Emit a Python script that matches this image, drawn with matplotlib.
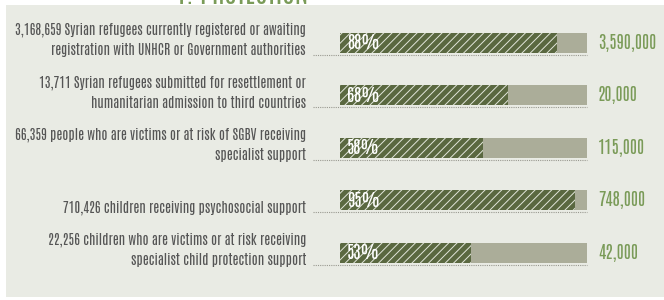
import matplotlib

matplotlib.use("Agg")

import matplotlib.pyplot as plt
import matplotlib.transforms as mtransforms
from matplotlib.patches import Rectangle

labels = [
    "3,168,659 Syrian refugees currently registered or awaiting\nregistration with UNHCR or Government authorities",
    "13,711 Syrian refugees submitted for resettlement or\nhumanitarian admission to third countries",
    "66,359 people who are victims or at risk of SGBV receiving\nspecialist support",
    "710,426 children receiving psychosocial support",
    "22,256 children who are victims or at risk receiving\nspecialist child protection support",
]
percent = [88, 68, 58, 95, 53]
targets = ["3,590,000", "20,000", "115,000", "748,000", "42,000"]

NARROW = ["Antonio", "Barlow Condensed", "DejaVu Sans"]
PANEL = "#e9ebe4"
DARK = "#5a6840"
LIGHT = "#abad99"
GREEN = "#7a9b58"
TEXT = "#555555"

plt.rcParams["hatch.color"] = "#e2e6da"
plt.rcParams["hatch.linewidth"] = 0.7

fig = plt.figure(figsize=(6.64, 3.0), dpi=100)
fig.patches.append(Rectangle((6 / 664, 3 / 300), 1, 292 / 300, transform=fig.transFigure,
                             facecolor=PANEL, edgecolor="none", zorder=-5))
fig.text(175 / 664, 1 - 4.5 / 300, "1. PROTECTION", color=GREEN, fontsize=19.5,
         fontweight="bold", family=NARROW, va="baseline", ha="left")

# bar axes: 340..587 px wide, rows 52.5 px apart
ax = fig.add_axes([340 / 664, 1 - 279 / 300, 247 / 664, 262.5 / 300])
ax.set_xlim(0, 100)
ax.set_ylim(4.5, -0.5)
ax.axis("off")

y = range(len(percent))
h = 0.38
ax.barh(y, [100] * len(percent), height=h, color=LIGHT, linewidth=0)
ax.barh(y, percent, height=h, color=DARK, linewidth=0, hatch="////")

trans = mtransforms.blended_transform_factory(ax.transAxes, ax.transData)
for i, (lab, p, t) in enumerate(zip(labels, percent, targets)):
    ax.text(-0.138, i + h / 2 + 0.09, lab, transform=trans, ha="right", va="bottom",
            fontsize=9.8, color=TEXT, family=NARROW, fontweight="light", linespacing=1.5)
    ax.plot([-0.109, 1.0], [i + h / 2 + 0.04] * 2, transform=trans, clip_on=False,
            color="#999990", linestyle=(0, (1, 1)), linewidth=0.8)
    ax.text(0.028, i, f"{p}%", transform=trans, ha="left", va="center",
            fontsize=12.5, color="white", family=NARROW)
    ax.text(1.045, i, t, transform=trans, ha="left", va="center",
            fontsize=12.5, fontweight="bold", color=GREEN, family=NARROW)

fig.savefig("out.png", dpi=100)
